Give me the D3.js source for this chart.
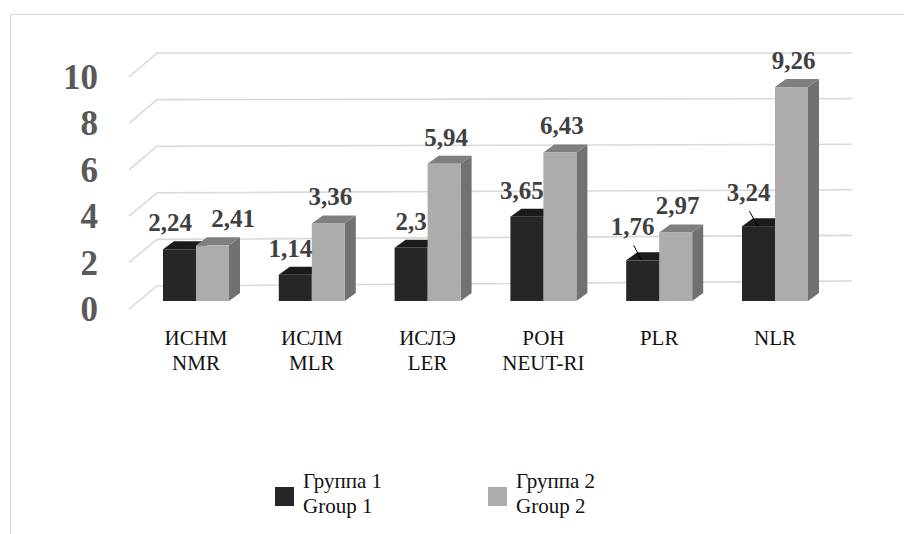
<!DOCTYPE html>
<html>
  <head>
    <title>Group comparison 3D bars</title>
    <style>
      body,
      html {
        margin: 0;
        padding: 0;
        background: #fff;
      }
      svg {
        display: block;
      }
    </style>
  </head>
  <body>
    <svg id="svg" width="904" height="534"></svg>
    <script src="https://cdn.jsdelivr.net/npm/d3@7"></script>
    <script>
      // chart data
      const categoryKeys = ['NMR', 'MLR', 'LER', 'NEUT-RI', 'PLR', 'NLR'];
      const categoryLabels = [
        ['ИСНМ', 'NMR'],
        ['ИСЛМ', 'MLR'],
        ['ИСЛЭ', 'LER'],
        ['РОН', 'NEUT-RI'],
        ['PLR'],
        ['NLR'],
      ];
      const group1 = [2.24, 1.14, 2.3, 3.65, 1.76, 3.24];
      const group2 = [2.41, 3.36, 5.94, 6.43, 2.97, 9.26];
      const seriesNames = [
        ['Группа 1', 'Group 1'],
        ['Группа 2', 'Group 2'],
      ];
      const yTicks = [0, 2, 4, 6, 8, 10];
      // group 1 labels that were dragged up, with a leader line
      const liftedLabels = ['PLR', 'NLR'];

      const colors = [
        { front: '#262626', top: '#1b1b1b', side: '#1f1f1f' },
        { front: '#aeabab', top: '#817e7e', side: '#737070' },
      ];
      const serif = '"Liberation Serif", serif';

      const barW = 33;
      const depth = { dx: 11, dy: -8 };
      const fmt = (v) => String(v).replace('.', ',');

      const svg = d3.select('#svg').style('font-family', serif);

      // chart area border (only top and left visible)
      svg
        .append('path')
        .attr('d', 'M10.5,534V14.5H904')
        .attr('fill', 'none')
        .attr('stroke', '#d9d9d9')
        .attr('stroke-width', 1);

      const x = d3.scalePoint().domain(categoryKeys).range([196, 775]);
      const y = d3.scaleLinear().domain([0, 10]).range([301, 70]);
      const yFront = d3.scaleLinear().domain([0, 10]).range([309, 77]);
      const yBackL = d3.scaleLinear().domain([0, 10]).range([286, 53]);
      const yBackR = d3.scaleLinear().domain([0, 10]).range([281, 53]);

      // gridlines on the side wall and the back wall
      svg
        .append('g')
        .selectAll('path')
        .data(yTicks)
        .enter()
        .append('path')
        .attr(
          'd',
          (d) => `M129,${yFront(d)}L157,${yBackL(d)}L852,${yBackR(d)}`
        )
        .attr('fill', 'none')
        .attr('stroke', '#d9d9d9')
        .attr('stroke-width', 1.6);

      svg
        .append('g')
        .selectAll('text')
        .data(yTicks)
        .enter()
        .append('text')
        .attr('x', 98)
        .attr('y', (d) => yFront(d))
        .attr('dy', '0.34em')
        .attr('text-anchor', 'end')
        .style('font-family', serif)
        .attr('font-size', 35)
        .attr('font-weight', 'bold')
        .attr('fill', '#595959')
        .text((d) => d);

      // bars
      const bars = [];
      categoryKeys.forEach((key, i) => {
        [group1[i], group2[i]].forEach((v, s) => {
          const x0 = x(key) - barW + s * barW;
          bars.push({ key, s, v, x0, y0: y(v), yb: y(0) });
        });
      });

      const bar = svg
        .append('g')
        .selectAll('g')
        .data(bars)
        .enter()
        .append('g');
      bar
        .append('path')
        .attr(
          'd',
          (d) =>
            `M${d.x0 + barW},${d.y0}l${depth.dx},${depth.dy}V${
              d.yb + depth.dy
            }l${-depth.dx},${-depth.dy}Z`
        )
        .attr('fill', (d) => colors[d.s].side);
      bar
        .append('path')
        .attr(
          'd',
          (d) =>
            `M${d.x0},${d.y0}l${depth.dx},${depth.dy}h${barW}l${-depth.dx},${-depth.dy}Z`
        )
        .attr('fill', (d) => colors[d.s].top);
      bar
        .append('rect')
        .attr('x', (d) => d.x0)
        .attr('y', (d) => d.y0)
        .attr('width', barW)
        .attr('height', (d) => d.yb - d.y0)
        .attr('fill', (d) => colors[d.s].front);

      // data labels
      const labelG = svg.append('g');
      const labelW = (v) => fmt(v).length * 12.5 - 5;
      categoryKeys.forEach((key, i) => {
        const v1 = group1[i];
        const v2 = group2[i];
        let c1 = x(key) - barW / 2;
        let c2 = x(key) + barW / 2;
        let b1 = y(v1) + depth.dy - 10;
        let b2 = y(v2) + depth.dy - 10;
        // push apart labels that collide
        const need = (labelW(v1) + labelW(v2)) / 2 + 18;
        if (Math.abs(b1 - b2) < 20 && c2 - c1 < need) {
          const mid = (c1 + c2) / 2 + depth.dx / 2;
          c1 = mid - need / 2;
          c2 = mid + need / 2;
        } else if (v2 > v1) {
          // keep the lower label clear of the taller neighbour
          c1 = Math.min(c1, x(key) - labelW(v1) / 2 + 1);
          c2 += 2;
        }
        if (liftedLabels.includes(key)) {
          const bx = x(key) - barW / 2;
          const by = y(v1);
          c1 -= 5;
          b1 -= 7;
          labelG
            .append('line')
            .attr('x1', c1 + 1)
            .attr('y1', b1 + 10)
            .attr('x2', bx - 1)
            .attr('y2', by)
            .attr('stroke', '#000')
            .attr('stroke-width', 1);
        }
        [
          [c1, b1, v1],
          [c2, b2, v2],
        ].forEach(([cx, by, v]) => {
          labelG
            .append('text')
            .attr('x', cx)
            .attr('y', by)
            .attr('text-anchor', 'middle')
            .style('font-family', serif)
            .attr('font-size', 25)
            .attr('font-weight', 'bold')
            .attr('fill', '#404040')
            .text(fmt(v));
        });
      });

      // category labels, one text per line
      const catLines = [];
      categoryKeys.forEach((key, i) => {
        categoryLabels[i].forEach((line, j) => catLines.push({ key, line, j }));
      });
      svg
        .append('g')
        .selectAll('text')
        .data(catLines)
        .enter()
        .append('text')
        .attr('x', (d) => x(d.key))
        .attr('y', (d) => 345 + d.j * 25)
        .attr('text-anchor', 'middle')
        .style('font-family', serif)
        .style('font-size', '21px')
        .attr('fill', '#111')
        .text((d) => d.line);

      // legend
      const legendX = [275, 488];
      const legend = svg
        .append('g')
        .selectAll('g')
        .data(seriesNames)
        .enter()
        .append('g')
        .attr('transform', (d, i) => `translate(${legendX[i]}, 487)`);
      legend
        .append('rect')
        .attr('width', 19)
        .attr('height', 19)
        .attr('fill', (d, i) => colors[i].front);
      legend
        .selectAll('text')
        .data((d) => d)
        .enter()
        .append('text')
        .attr('x', 28)
        .attr('y', (d, j) => 1 + j * 25)
        .style('font-family', serif)
        .style('font-size', '21px')
        .attr('fill', '#111')
        .text((d) => d);
    </script>
  </body>
</html>
